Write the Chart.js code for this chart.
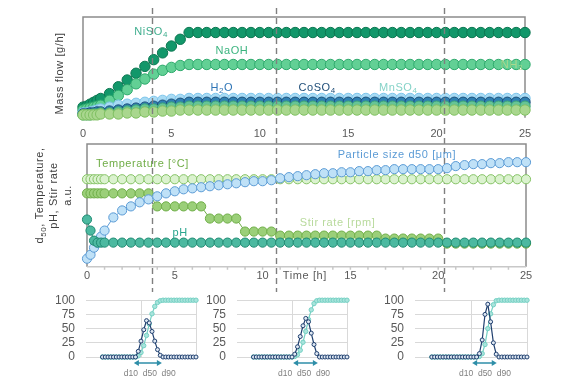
<!DOCTYPE html>
<html>
<head>
<meta charset="utf-8">
<script src="https://cdn.jsdelivr.net/npm/chart.js@4.4.1/dist/chart.umd.min.js"></script>
<style>
  html, body { margin: 0; padding: 0; background: #fff; }
  #wrap { position: relative; width: 588px; height: 388px; overflow: hidden; }
  canvas { position: absolute; }
</style>
</head>
<body>
<div id="wrap">
  <canvas id="flow" width="588" height="293" style="left:0;top:0"></canvas>
  <canvas id="reactor" width="588" height="293" style="left:0;top:0"></canvas>
  <canvas id="psd1" width="165" height="106" style="left:40px;top:282px"></canvas>
  <canvas id="psd2" width="165" height="106" style="left:190px;top:282px"></canvas>
  <canvas id="psd3" width="168" height="106" style="left:368px;top:282px"></canvas>
</div>
<script>
// time axis shared by both panels (h)
const hours = [0, 0.2, 0.4, 0.6, 0.8, 1, 1.5, 2, 2.5, 3, 3.5, 4, 4.5, 5, 5.5, 6,
  6.5, 7, 7.5, 8, 8.5, 9, 9.5, 10, 10.5, 11, 11.5, 12, 12.5, 13, 13.5, 14, 14.5, 15, 15.5, 16,
  16.5, 17, 17.5, 18, 18.5, 19, 19.5, 20, 20.5, 21, 21.5, 22, 22.5, 23, 23.5, 24, 24.5, 25];

// mass flows (a.u.)
const niso4 = [10.6, 11.5, 13.5, 15.4, 17.3, 19.2, 24.0, 30.8, 37.5, 44.2, 51.0, 57.7, 64.4, 71.2, 77.9, 84.6,
  84.6, 84.6, 84.6, 84.6, 84.6, 84.6, 84.6, 84.6, 84.6, 84.6,
  84.6, 84.6, 84.6, 84.6, 84.6, 84.6, 84.6, 84.6, 84.6, 84.6,
  84.6, 84.6, 84.6, 84.6, 84.6, 84.6, 84.6, 84.6, 84.6, 84.6,
  84.6, 84.6, 84.6, 84.6, 84.6, 84.6, 84.6, 84.6];
const naoh = [7.7, 8.7, 9.6, 10.6, 11.5, 12.5, 17.3, 22.1, 27.9, 33.7, 38.5, 43.3, 47.1, 50.0, 51.9, 52.9,
  52.9, 52.9, 52.9, 52.9, 52.9, 52.9, 52.9, 52.9, 52.9, 52.9,
  52.9, 52.9, 52.9, 52.9, 52.9, 52.9, 52.9, 52.9, 52.9, 52.9,
  52.9, 52.9, 52.9, 52.9, 52.9, 52.9, 52.9, 52.9, 52.9, 52.9,
  52.9, 52.9, 52.9, 52.9, 52.9, 52.9, 52.9, 52.9];
const h2o = [4.8, 4.8, 5.8, 6.7, 7.7, 8.7, 10.6, 12.5, 13.5, 14.4, 15.4, 16.3, 17.3, 18.3, 18.3, 19.2,
  19.2, 19.2, 19.2, 19.2, 19.2, 19.2, 19.2, 19.2, 19.2, 19.2,
  19.2, 19.2, 19.2, 19.2, 19.2, 19.2, 19.2, 19.2, 19.2, 19.2,
  19.2, 19.2, 19.2, 19.2, 19.2, 19.2, 19.2, 19.2, 19.2, 19.2,
  19.2, 19.2, 19.2, 19.2, 19.2, 19.2, 19.2, 19.2];
const coso4 = [3.8, 3.8, 4.8, 4.8, 5.8, 5.8, 6.7, 7.7, 8.7, 9.6, 10.6, 11.5, 12.5, 13.5, 14.4, 15.4,
  15.4, 15.4, 15.4, 15.4, 15.4, 15.4, 15.4, 15.4, 15.4, 15.4,
  15.4, 15.4, 15.4, 15.4, 15.4, 15.4, 15.4, 15.4, 15.4, 15.4,
  15.4, 15.4, 15.4, 15.4, 15.4, 15.4, 15.4, 15.4, 15.4, 15.4,
  15.4, 15.4, 15.4, 15.4, 15.4, 15.4, 15.4, 15.4];
const mnso4 = [2.9, 2.9, 2.9, 3.8, 3.8, 4.8, 4.8, 5.8, 6.7, 7.7, 8.7, 8.7, 9.6, 10.6, 10.6, 11.5,
  11.5, 11.5, 11.5, 11.5, 11.5, 11.5, 11.5, 11.5, 11.5, 11.5,
  11.5, 11.5, 11.5, 11.5, 11.5, 11.5, 11.5, 11.5, 11.5, 11.5,
  11.5, 11.5, 11.5, 11.5, 11.5, 11.5, 11.5, 11.5, 11.5, 11.5,
  11.5, 11.5, 11.5, 11.5, 11.5, 11.5, 11.5, 11.5];
const nh3 = [2.9, 2.9, 2.9, 2.9, 2.9, 3.8, 3.8, 3.8, 4.8, 4.8, 5.8, 5.8, 6.7, 6.7, 7.7, 7.7,
  7.7, 7.7, 7.7, 7.7, 7.7, 7.7, 7.7, 7.7, 7.7, 7.7,
  7.7, 7.7, 7.7, 7.7, 7.7, 7.7, 7.7, 7.7, 7.7, 7.7,
  7.7, 7.7, 7.7, 7.7, 7.7, 7.7, 7.7, 7.7, 7.7, 7.7,
  7.7, 7.7, 7.7, 7.7, 7.7, 7.7, 7.7, 7.7];

// reactor conditions (a.u.)
const d50 = [6.6, 9.8, 15.6, 19.7, 24.6, 29.5, 40.2, 45.9, 49.2, 52.5, 54.9, 57.4, 59.8, 61.5, 63.1, 63.9,
  64.8, 65.6, 66.4, 67.2, 68.0, 68.9, 69.7, 69.7, 70.5, 72.1,
  73.0, 73.8, 74.6, 75.4, 76.2, 76.2, 77.0, 77.0, 77.9, 77.9,
  78.7, 78.7, 79.5, 79.5, 79.5, 79.5, 79.5, 79.5, 80.3, 82.0,
  82.8, 83.6, 83.6, 84.4, 84.4, 85.2, 85.2, 85.2];
const temperature = [71.3, 71.3, 71.3, 71.3, 71.3, 71.3, 71.3, 71.3, 71.3, 71.3, 71.3, 71.3, 71.3, 71.3, 71.3, 71.3,
  71.3, 71.3, 71.3, 71.3, 71.3, 71.3, 71.3, 71.3, 71.3, 71.3,
  71.3, 71.3, 71.3, 71.3, 71.3, 71.3, 71.3, 71.3, 71.3, 71.3,
  71.3, 71.3, 71.3, 71.3, 71.3, 71.3, 71.3, 71.3, 71.3, 71.3,
  71.3, 71.3, 71.3, 71.3, 71.3, 71.3, 71.3, 71.3];
const stirRate = [59.8, 59.8, 59.8, 59.8, 59.8, 59.8, 59.8, 59.8, 59.8, 59.8, 59.8,
  49.2, 49.2, 49.2, 49.2, 49.2, 49.2,
  39.3, 39.3, 39.3, 39.3,
  28.7, 28.7, 28.7, 28.7,
  25.4, 25.4, 25.4, 25.4, 25.4, 25.4, 25.4, 25.4, 25.4, 25.4, 25.4, 25.4,
  23.0, 23.0, 23.0, 23.0, 23.0, 23.0, 23.0,
  18.9, 18.9, 18.9, 18.9, 18.9, 18.9, 18.9, 18.9, 18.9, 18.9];
const ph = [38.5, 29.5, 21.3, 19.7, 19.7, 19.7, 19.7, 19.7, 19.7, 19.7, 19.7, 19.7, 19.7, 19.7, 19.7, 19.7,
  19.7, 19.7, 19.7, 19.7, 19.7, 19.7, 19.7, 19.7, 19.7, 19.7,
  19.7, 19.7, 19.7, 19.7, 19.7, 19.7, 19.7, 19.7, 19.7, 19.7,
  19.7, 19.7, 19.7, 19.7, 19.7, 19.7, 19.7, 19.7, 19.7, 19.7,
  19.7, 19.7, 19.7, 19.7, 19.7, 19.7, 19.7, 19.7];

// process step changes (h)
const phaseChanges = [3.91, 10.94, 20.41];

// particle size distributions (log size classes, a.u.)
const sizeClasses = [0.3, 0.35, 0.4, 0.45, 0.5, 0.55, 0.6, 0.65, 0.7, 0.75, 0.8, 0.85, 0.9, 0.95, 1.0,
  1.05, 1.1, 1.15, 1.2, 1.25, 1.3, 1.35, 1.4, 1.45, 1.5, 1.55, 1.6, 1.65, 1.7, 1.75, 1.8, 1.85, 1.9, 1.95, 2.0];
const freq1 = [0, 0, 0, 0, 0, 0, 0, 0, 0, 0, 0, 0, 0, 10, 28, 48, 64, 60, 45, 28, 13, 3, 0, 0, 0, 0, 0, 0, 0, 0, 0, 0, 0, 0, 0];
const cum1 = [0, 0, 0, 0, 0, 0, 0, 0, 0, 0, 0, 0, 0, 2, 8, 20, 38, 58, 76, 89, 96, 99, 100, 100, 100, 100, 100, 100, 100, 100, 100, 100, 100, 100, 100];
const freq2 = [0, 0, 0, 0, 0, 0, 0, 0, 0, 0, 0, 0, 0, 0, 0, 5, 18, 36, 55, 68, 62, 42, 22, 6, 0, 0, 0, 0, 0, 0, 0, 0, 0, 0, 0];
const cum2 = [0, 0, 0, 0, 0, 0, 0, 0, 0, 0, 0, 0, 0, 0, 0, 1, 4, 12, 26, 45, 66, 83, 94, 99, 100, 100, 100, 100, 100, 100, 100, 100, 100, 100, 100];
const freq3 = [0, 0, 0, 0, 0, 0, 0, 0, 0, 0, 0, 0, 0, 0, 0, 0, 0, 6, 30, 75, 93, 62, 25, 5, 0, 0, 0, 0, 0, 0, 0, 0, 0, 0, 0];
const cum3 = [0, 0, 0, 0, 0, 0, 0, 0, 0, 0, 0, 0, 0, 0, 0, 0, 0, 1, 6, 22, 50, 76, 92, 99, 100, 100, 100, 100, 100, 100, 100, 100, 100, 100, 100];
const d10s = [0.87, 1.02, 1.02];
const d50s = [1.16, 1.22, 1.25];
const d90s = [1.38, 1.47, 1.46];

Chart.defaults.font.family = '"Liberation Sans", Arial, sans-serif';
Chart.defaults.color = '#595959';

const pts = (xs, ys) => xs.map((x, i) => ({ x, y: ys[i] }));

// text with {subscript} parts, centred on x
function drawRich(ctx, text, x, y, size, color) {
  const parts = [];
  text.split(/(\{[^}]*\})/).forEach(p => {
    if (!p) return;
    if (p[0] === '{') parts.push({ t: p.slice(1, -1), sub: true });
    else parts.push({ t: p, sub: false });
  });
  const fontFor = sub => (sub ? Math.round(size * 0.72) : size) + 'px "Liberation Sans", Arial, sans-serif';
  ctx.save();
  ctx.letterSpacing = '0.6px';
  ctx.textBaseline = 'middle';
  ctx.textAlign = 'left';
  ctx.fillStyle = color;
  let total = 0;
  parts.forEach(p => { ctx.font = fontFor(p.sub); p.w = ctx.measureText(p.t).width; total += p.w; });
  let cx = x - total / 2;
  parts.forEach(p => {
    ctx.font = fontFor(p.sub);
    ctx.fillText(p.t, cx, y + (p.sub ? size * 0.3 : 0));
    cx += p.w;
  });
  ctx.restore();
}

// labels placed in data units, axis titles relative to the plot area
const notesPlugin = {
  id: 'notes',
  afterDatasetsDraw(chart, args, opts) {
    const { ctx, chartArea, scales } = chart;
    (opts.items || []).forEach(n => {
      drawRich(ctx, n.text, scales.x.getPixelForValue(n.x), scales.y.getPixelForValue(n.y), n.size || 11, n.color);
    });
    const midY = (chartArea.top + chartArea.bottom) / 2;
    (opts.titles || []).forEach(t => {
      ctx.save();
      ctx.translate(chartArea.left + t.dx, midY + t.dy);
      ctx.rotate(-Math.PI / 2);
      drawRich(ctx, t.text, 0, 0, 11, '#404040');
      ctx.restore();
    });
  }
};

const framePlugin = {
  id: 'frame',
  beforeDatasetsDraw(chart, args, opts) {
    const { ctx, chartArea: a } = chart;
    ctx.save();
    ctx.strokeStyle = '#8c8c8c';
    ctx.lineWidth = 1.5;
    ctx.beginPath();
    ctx.moveTo(a.left, a.bottom);
    ctx.lineTo(a.left, a.top);
    ctx.lineTo(a.right, a.top);
    ctx.lineTo(a.right, a.bottom);
    ctx.stroke();
    if (opts.bottom) {
      ctx.strokeStyle = '#c8c8c8';
      ctx.beginPath();
      ctx.moveTo(a.left, a.bottom);
      ctx.lineTo(a.right, a.bottom);
      for (let h = 1; h < 25; h++) {
        const px = chart.scales.x.getPixelForValue(h);
        ctx.moveTo(px, a.bottom);
        ctx.lineTo(px, a.bottom + 3);
      }
      ctx.stroke();
    }
    ctx.restore();
  }
};

const phasePlugin = {
  id: 'phases',
  afterDraw(chart, args, opts) {
    const { ctx, scales } = chart;
    ctx.save();
    ctx.strokeStyle = '#7f7f7f';
    ctx.lineWidth = 1.4;
    ctx.setLineDash([6, 4]);
    phaseChanges.forEach(h => {
      const px = Math.round(scales.x.getPixelForValue(h)) + 0.5;
      ctx.beginPath();
      ctx.moveTo(px, opts.from);
      ctx.lineTo(px, opts.to);
      ctx.stroke();
    });
    ctx.restore();
  }
};

function series(label, data, fill, border, radius) {
  return {
    label, data: pts(hours, data),
    backgroundColor: fill, borderColor: border,
    pointBackgroundColor: fill, pointBorderColor: border,
    pointRadius: radius, pointBorderWidth: 1, borderWidth: 1, clip: false
  };
}

const timeAxis = padding => ({
  type: 'linear', min: 0, max: 25,
  ticks: { stepSize: 5, padding, font: { size: 11 }, color: '#595959' },
  grid: { display: false, drawTicks: false },
  border: { display: false }
});

new Chart(document.getElementById('flow'), {
  type: 'line',
  data: {
    datasets: [
      series('NH3', nh3, '#a9d78e', '#80c062', 5.2),
      series('MnSO4', mnso4, '#66c497', '#3ea677', 5.2),
      series('CoSO4', coso4, '#2f80b2', '#1b4f79', 5.2),
      series('H2O', h2o, '#a8dbf4', '#7cc4ea', 5.2),
      series('NaOH', naoh, '#62d095', '#2ea96c', 5.2),
      series('NiSO4', niso4, '#12976a', '#0b7650', 5.2)
    ]
  },
  options: {
    responsive: false, animation: false,
    layout: { padding: { left: 83, right: 63, top: 17, bottom: 142 } },
    scales: { x: timeAxis(10), y: { display: false, min: 0, max: 100 } },
    plugins: {
      legend: { display: false }, tooltip: { enabled: false },
      frame: { bottom: false },
      phases: { from: 8, to: 292 },
      notes: {
        items: [
          { text: 'NiSO{4}', x: 3.85, y: 85.6, color: '#3fae8e' },
          { text: 'NaOH', x: 8.42, y: 66.3, color: '#3bb47f' },
          { text: 'H{2}O', x: 7.85, y: 29.8, color: '#2e75b6' },
          { text: 'CoSO{4}', x: 13.24, y: 29.8, color: '#1f4e79' },
          { text: 'MnSO{4}', x: 17.83, y: 29.8, color: '#86d3c8' },
          { text: 'NH{3}', x: 24.26, y: 52.9, color: '#a9d88e' }
        ],
        titles: [{ text: 'Mass flow [g/h]', dx: -23, dy: 6 }]
      }
    }
  },
  plugins: [framePlugin, notesPlugin, phasePlugin]
});

new Chart(document.getElementById('reactor'), {
  type: 'line',
  data: {
    datasets: [
      series('pH', ph, '#4cb9a0', '#1f8a72', 4.6),
      series('Particle size d50', d50, '#bfe1f7', '#5b9bd5', 4.6),
      series('Stir rate', stirRate, '#9bcf79', '#6fae48', 4.6),
      series('Temperature', temperature, '#dbf2cf', '#86c366', 4.6)
    ]
  },
  options: {
    responsive: false, animation: false,
    layout: { padding: { left: 87, right: 62, top: 144, bottom: 7 } },
    scales: { x: timeAxis(3), y: { display: false, min: 0, max: 100 } },
    plugins: {
      legend: { display: false }, tooltip: { enabled: false },
      frame: { bottom: true },
      notes: {
        items: [
          { text: 'Temperature [°C]', x: 3.16, y: 83.6, color: '#70ad47' },
          { text: 'Particle size d50 [μm]', x: 17.65, y: 91, color: '#5b9bd5' },
          { text: 'pH', x: 5.3, y: 27.9, color: '#2aa58e' },
          { text: 'Stir rate [rpm]', x: 14.27, y: 36.1, color: '#b8da9c' },
          { text: 'Time [h]', x: 12.41, y: -7.4, color: '#595959' }
        ],
        titles: [
          { text: 'd{50}, Temperature,', dx: -47, dy: -10 },
          { text: 'pH, Stir rate', dx: -33, dy: -10 },
          { text: 'a.u.', dx: -19, dy: -10 }
        ]
      }
    }
  },
  plugins: [framePlugin, notesPlugin]
});

// d10-d90 arrow with labels under each distribution
const psdMarks = {
  id: 'psdMarks',
  afterDraw(chart, args, opts) {
    const { ctx, chartArea: a, scales } = chart;
    const x1 = scales.x.getPixelForValue(opts.d10);
    const x2 = scales.x.getPixelForValue(opts.d90);
    const y = a.bottom + 6;
    ctx.save();
    ctx.strokeStyle = '#2e8ea8';
    ctx.fillStyle = '#2e8ea8';
    ctx.lineWidth = 1.5;
    ctx.beginPath();
    ctx.moveTo(x1 + 3, y);
    ctx.lineTo(x2 - 3, y);
    ctx.stroke();
    [[x1, 1], [x2, -1]].forEach(([x, d]) => {
      ctx.beginPath();
      ctx.moveTo(x, y);
      ctx.lineTo(x + 5 * d, y - 3);
      ctx.lineTo(x + 5 * d, y + 3);
      ctx.closePath();
      ctx.fill();
    });
    ctx.font = '8.5px "Liberation Sans", Arial, sans-serif';
    ctx.textAlign = 'center';
    ctx.textBaseline = 'middle';
    ctx.fillStyle = '#7f7f7f';
    ctx.fillText('d10  d50  d90', scales.x.getPixelForValue(opts.d50), a.bottom + 17);
    ctx.restore();
  }
};

function psdChart(id, freq, cum, i, padLeft, padRight) {
  new Chart(document.getElementById(id), {
    type: 'line',
    data: {
      datasets: [
        { label: 'q3', data: pts(sizeClasses, freq), borderColor: '#1f3f6e', backgroundColor: '#dfe8f3',
          pointBorderColor: '#1f3f6e', pointBackgroundColor: '#dfe8f3',
          pointRadius: 2, pointBorderWidth: 1, borderWidth: 1.2, clip: false },
        { label: 'Q3', data: pts(sizeClasses, cum), borderColor: '#74d0c3', backgroundColor: '#a9e4dc',
          pointBorderColor: '#74d0c3', pointBackgroundColor: '#a9e4dc',
          pointRadius: 2.2, pointBorderWidth: 1, borderWidth: 1.2, clip: false }
      ]
    },
    options: {
      responsive: false, animation: false,
      layout: { padding: { left: padLeft, right: padRight, top: 8, bottom: 31 } },
      scales: {
        x: {
          type: 'linear', min: 0, max: 2,
          ticks: { display: false, stepSize: 1 },
          grid: { color: c => (c.tick && c.tick.value === 0 ? 'rgba(0,0,0,0)' : '#d9d9d9'), drawTicks: false },
          border: { display: false }
        },
        y: {
          min: 0, max: 100,
          ticks: { stepSize: 25, autoSkip: false, padding: 11, font: { size: 12 }, color: '#595959' },
          grid: { color: '#d9d9d9', drawTicks: false },
          border: { display: false },
          afterFit(s) { s.width = 30; }
        }
      },
      plugins: {
        legend: { display: false }, tooltip: { enabled: false },
        psdMarks: { d10: d10s[i], d50: d50s[i], d90: d90s[i] }
      }
    },
    plugins: [psdMarks]
  });
}

psdChart('psd1', freq1, cum1, 0, 16, 9);
psdChart('psd2', freq2, cum2, 1, 17, 8);
psdChart('psd3', freq3, cum3, 2, 17, 9);
</script>
</body>
</html>
